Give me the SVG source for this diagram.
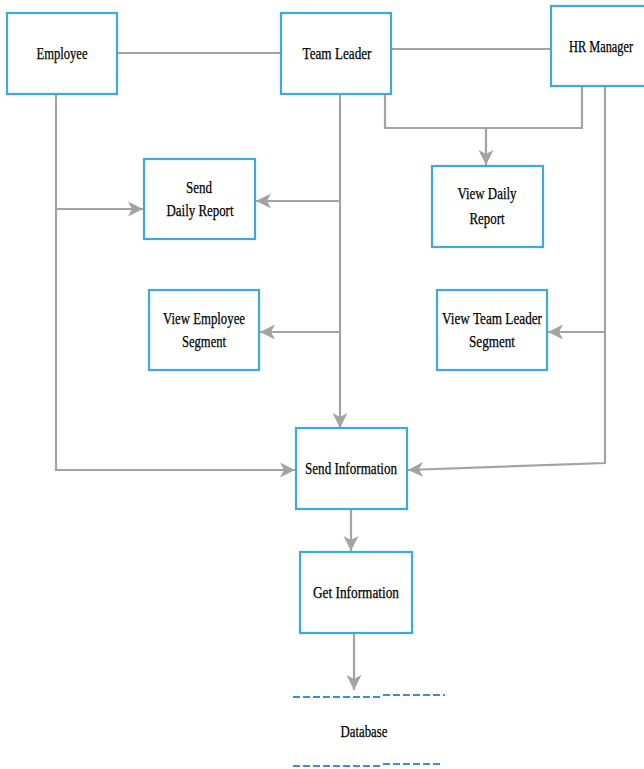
<svg xmlns="http://www.w3.org/2000/svg" width="644" height="769" viewBox="0 0 644 769">
<style>
.box{fill:#fff;stroke:#3ea8e2;stroke-width:2.2}
.t{font-family:"Liberation Serif","Times New Roman",serif;font-size:17px;fill:#000;text-anchor:middle;stroke:#000;stroke-width:0.25}
.c{fill:none;stroke:#a3a3a3;stroke-width:2.2}
.a{marker-end:url(#ah)}
.db{fill:none;stroke:#3a8fd8;stroke-width:2.2;stroke-dasharray:7 3}
</style>
<defs>
<marker id="ah" markerUnits="userSpaceOnUse" markerWidth="18" markerHeight="18" refX="15" refY="9" orient="auto">
<path d="M0,1.5 L15,9 L0,16.5 L4,9 z" fill="#a3a3a3"/>
</marker>
</defs>
<g id="connectors">
<line class="c" x1="118" y1="53" x2="281" y2="53"/>
<line class="c" x1="391" y1="49" x2="551" y2="49"/>
<path class="c a" d="M56,94 V470 H295"/>
<path class="c a" d="M56,209 H143"/>
<path class="c a" d="M340,94 V428"/>
<path class="c a" d="M340,201 H256"/>
<path class="c a" d="M340,332 H260"/>
<path class="c" d="M385,94 V128 H582 V86"/>
<path class="c a" d="M486,128 V165"/>
<path class="c a" d="M605,86 V463 L408,470"/>
<path class="c a" d="M605,332 H548"/>
<path class="c a" d="M351,509 V551"/>
<path class="c a" d="M354,633 V690"/>
</g>
<g id="employee">
<rect class="box" x="7" y="13" width="110" height="81"/>
<text class="t" x="62" y="59" textLength="51" lengthAdjust="spacingAndGlyphs">Employee</text>
</g>
<g id="team-leader">
<rect class="box" x="281" y="13" width="110" height="81"/>
<text class="t" x="337" y="59" textLength="69" lengthAdjust="spacingAndGlyphs">Team Leader</text>
</g>
<g id="hr-manager">
<rect class="box" x="551" y="6" width="100" height="80"/>
<text class="t" x="601" y="52" textLength="64" lengthAdjust="spacingAndGlyphs">HR Manager</text>
</g>
<g id="send-daily-report">
<rect class="box" x="144" y="159" width="111" height="80"/>
<text class="t" x="199" y="193" textLength="26" lengthAdjust="spacingAndGlyphs">Send</text>
<text class="t" x="200" y="216" textLength="67" lengthAdjust="spacingAndGlyphs">Daily Report</text>
</g>
<g id="view-daily-report">
<rect class="box" x="432" y="166" width="111" height="81"/>
<text class="t" x="487" y="199" textLength="59" lengthAdjust="spacingAndGlyphs">View Daily</text>
<text class="t" x="487" y="224" textLength="35" lengthAdjust="spacingAndGlyphs">Report</text>
</g>
<g id="view-employee-segment">
<rect class="box" x="149" y="290" width="110" height="80"/>
<text class="t" x="204" y="324" textLength="82" lengthAdjust="spacingAndGlyphs">View Employee</text>
<text class="t" x="204" y="347" textLength="44" lengthAdjust="spacingAndGlyphs">Segment</text>
</g>
<g id="view-team-leader-segment">
<rect class="box" x="437" y="290" width="110" height="80"/>
<text class="t" x="492" y="324" textLength="100" lengthAdjust="spacingAndGlyphs">View Team Leader</text>
<text class="t" x="492" y="347" textLength="46" lengthAdjust="spacingAndGlyphs">Segment</text>
</g>
<g id="send-information">
<rect class="box" x="296" y="428" width="111" height="81"/>
<text class="t" x="351" y="474" textLength="92" lengthAdjust="spacingAndGlyphs">Send Information</text>
</g>
<g id="get-information">
<rect class="box" x="300" y="552" width="112" height="81"/>
<text class="t" x="356" y="598" textLength="86" lengthAdjust="spacingAndGlyphs">Get Information</text>
</g>
<g id="database">
<path class="db" d="M293,697 H383 M383,695 H445"/>
<path class="db" d="M293,766 H383 M383,764 H441"/>
<text class="t" x="364" y="737" textLength="47" lengthAdjust="spacingAndGlyphs">Database</text>
</g>
</svg>
